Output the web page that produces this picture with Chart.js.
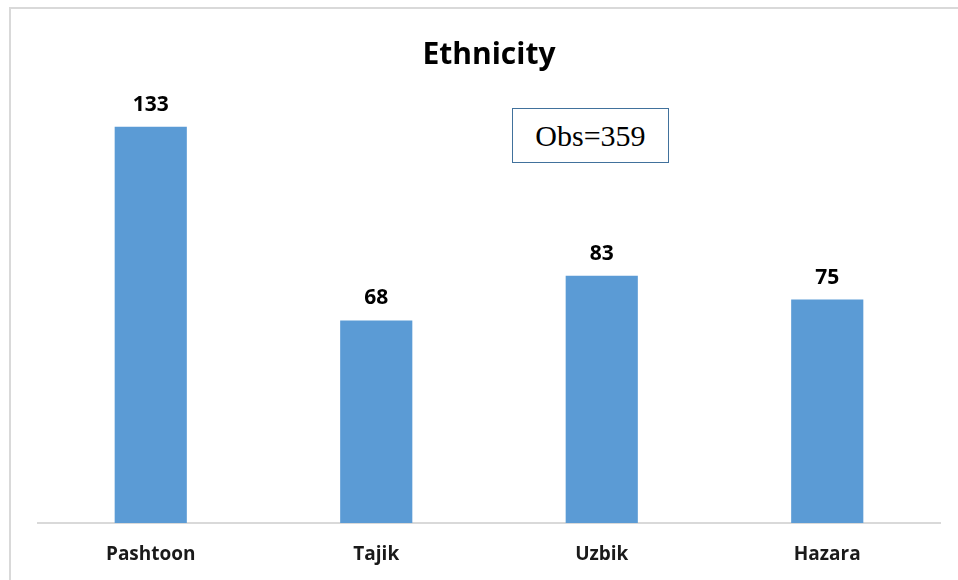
<!DOCTYPE html>
<html>
<head>
<meta charset="utf-8">
<script src="https://cdn.jsdelivr.net/npm/chart.js@4/dist/chart.umd.min.js"></script>
<style>
  html, body { margin: 0; padding: 0; background: #fff; }
  #wrap { position: relative; width: 958px; height: 580px; overflow: hidden; }
  #frame { position: absolute; left: 9px; top: 7px; width: 980px; height: 600px; border: 2px solid #d9d9d9; }
  #obs { position: absolute; left: 512px; top: 108px; width: 155px; height: 53px; border: 1px solid #41719c;
         font-family: "Liberation Serif", "Times New Roman", serif; font-size: 30px; color: #000;
         display: flex; align-items: center; justify-content: center; background: #fff; }
  canvas { position: absolute; left: 0; top: 0; }
</style>
</head>
<body>
<div id="wrap">
  <div id="frame"></div>
  <canvas id="grafikon" width="958" height="580"></canvas>
  <div id="obs">Obs=359</div>
</div>
<script>
const kategoriak = ["Pashtoon", "Tajik", "Uzbik", "Hazara"];
const ertekek = [133, 68, 83, 75];
const cim = "Ethnicity";

// ertek cimkek a oszlopok folott
const ertekCimkek = {
  id: "ertekCimkek",
  afterDatasetsDraw(chart) {
    const ctx = chart.ctx;
    const meta = chart.getDatasetMeta(0);
    ctx.save();
    ctx.font = "bold 21px 'Open Sans'";
    ctx.fillStyle = "#000";
    ctx.textAlign = "center";
    ctx.textBaseline = "middle";
    meta.data.forEach((bar, i) => {
      ctx.fillText(ertekek[i], bar.x, bar.y - 22);
    });
    ctx.restore();
  }
};

new Chart(document.getElementById("grafikon"), {
  type: "bar",
  data: {
    labels: kategoriak,
    datasets: [{
      label: "Ethnicity",
      data: ertekek,
      backgroundColor: "#5b9bd5",
      categoryPercentage: 1,
      barPercentage: 0.32
    }]
  },
  options: {
    responsive: false,
    animation: false,
    layout: { padding: { left: 38, right: 18, top: 0, bottom: 0 } },
    plugins: {
      legend: { display: false },
      tooltip: { enabled: false },
      title: {
        display: true,
        text: cim,
        color: "#000",
        font: { family: "'Open Sans'", size: 30, weight: "bold" },
        padding: { top: 37, bottom: 33 }
      }
    },
    scales: {
      x: {
        grid: { display: false, drawTicks: false },
        border: { display: true, color: "#d9d9d9", width: 2 },
        ticks: {
          color: "#1a1a1a",
          padding: 20,
          font: { family: "'Open Sans'", size: 19, weight: "bold" }
        },
        afterFit(scale) { scale.height = 57; }
      },
      y: {
        display: false,
        min: 0,
        max: 140
      }
    }
  },
  plugins: [ertekCimkek]
});
</script>
</body>
</html>
